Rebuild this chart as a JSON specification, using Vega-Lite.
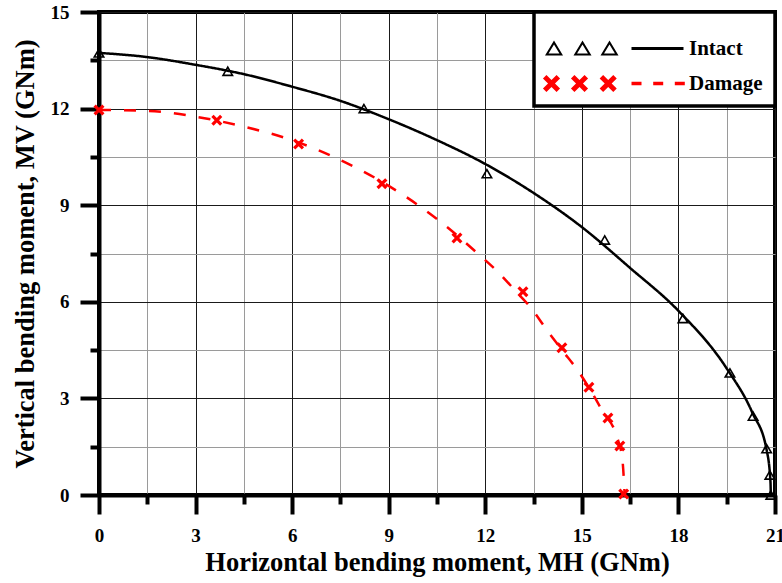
{
  "$schema": "https://vega.github.io/schema/vega-lite/v6.json",
  "width": 676,
  "height": 483,
  "autosize": {"type": "none"},
  "padding": {"left": 99, "top": 12, "right": 7, "bottom": 88},
  "background": "white",
  "config": {
    "view": {"stroke": "black", "strokeWidth": 4},
    "axis": {
      "labelFont": "Liberation Serif", "labelFontSize": 19, "labelFontWeight": "bold", "labelColor": "black",
      "titleFont": "Liberation Serif", "titleFontSize": 26.5, "titleFontWeight": "bold", "titleColor": "black",
      "domainColor": "black", "domainWidth": 4,
      "ticks": true, "tickColor": "#000000", "tickOpacity": 1, "tickWidth": 4, "tickSize": 19,
      "grid": true, "gridWidth": 1,
      "labelFlush": false, "labelOverlap": false
    }
  },
  "datasets": {
    "curves": [
      {"series": "Intact", "mh": 0, "mv": 13.73},
      {"series": "Intact", "mh": 1.5, "mv": 13.6},
      {"series": "Intact", "mh": 3, "mv": 13.36},
      {"series": "Intact", "mh": 4.5, "mv": 13.07},
      {"series": "Intact", "mh": 6, "mv": 12.68},
      {"series": "Intact", "mh": 7.5, "mv": 12.24},
      {"series": "Intact", "mh": 9, "mv": 11.67},
      {"series": "Intact", "mh": 10.5, "mv": 11.02},
      {"series": "Intact", "mh": 12, "mv": 10.28},
      {"series": "Intact", "mh": 13.5, "mv": 9.38},
      {"series": "Intact", "mh": 15, "mv": 8.32},
      {"series": "Intact", "mh": 16.5, "mv": 7.05},
      {"series": "Intact", "mh": 18, "mv": 5.72},
      {"series": "Intact", "mh": 19.5, "mv": 3.93},
      {"series": "Intact", "mh": 20.3, "mv": 2.55},
      {"series": "Intact", "mh": 20.74, "mv": 1.4},
      {"series": "Intact", "mh": 20.86, "mv": 0.4},
      {"series": "Intact", "mh": 20.87, "mv": 0},
      {"series": "Damage", "mh": 0, "mv": 11.96},
      {"series": "Damage", "mh": 1.5, "mv": 11.93},
      {"series": "Damage", "mh": 3, "mv": 11.75},
      {"series": "Damage", "mh": 4.5, "mv": 11.44},
      {"series": "Damage", "mh": 6, "mv": 11.02},
      {"series": "Damage", "mh": 7.5, "mv": 10.4},
      {"series": "Damage", "mh": 9, "mv": 9.6},
      {"series": "Damage", "mh": 10.5, "mv": 8.57},
      {"series": "Damage", "mh": 11.8, "mv": 7.47},
      {"series": "Damage", "mh": 12.4, "mv": 6.92},
      {"series": "Damage", "mh": 12.9, "mv": 6.38},
      {"series": "Damage", "mh": 13.45, "mv": 5.77},
      {"series": "Damage", "mh": 13.95, "mv": 5.07},
      {"series": "Damage", "mh": 14.4, "mv": 4.48},
      {"series": "Damage", "mh": 14.9, "mv": 3.83},
      {"series": "Damage", "mh": 15.3, "mv": 3.2},
      {"series": "Damage", "mh": 15.66, "mv": 2.57},
      {"series": "Damage", "mh": 16.08, "mv": 1.83},
      {"series": "Damage", "mh": 16.26, "mv": 1.09},
      {"series": "Damage", "mh": 16.33, "mv": 0}
    ],
    "points": [
      {"series": "Intact", "mh": 0, "mv": 13.73},
      {"series": "Intact", "mh": 4.0, "mv": 13.16},
      {"series": "Intact", "mh": 8.23, "mv": 12.0},
      {"series": "Intact", "mh": 12.05, "mv": 9.98},
      {"series": "Intact", "mh": 15.71, "mv": 7.92},
      {"series": "Intact", "mh": 18.14, "mv": 5.48},
      {"series": "Intact", "mh": 19.6, "mv": 3.79},
      {"series": "Intact", "mh": 20.32, "mv": 2.45},
      {"series": "Intact", "mh": 20.74, "mv": 1.44},
      {"series": "Intact", "mh": 20.84, "mv": 0.62},
      {"series": "Intact", "mh": 20.87, "mv": 0},
      {"series": "Damage", "mh": 0, "mv": 11.96},
      {"series": "Damage", "mh": 3.66, "mv": 11.64},
      {"series": "Damage", "mh": 6.2, "mv": 10.9},
      {"series": "Damage", "mh": 8.79, "mv": 9.67},
      {"series": "Damage", "mh": 11.12, "mv": 7.98},
      {"series": "Damage", "mh": 13.17, "mv": 6.31},
      {"series": "Damage", "mh": 14.38, "mv": 4.57},
      {"series": "Damage", "mh": 15.22, "mv": 3.35},
      {"series": "Damage", "mh": 15.81, "mv": 2.39},
      {"series": "Damage", "mh": 16.18, "mv": 1.52},
      {"series": "Damage", "mh": 16.3, "mv": 0.03}
    ]
  },
  "encoding": {
    "x": {
      "field": "mh", "type": "quantitative",
      "scale": {"domain": [0, 21], "nice": false},
      "axis": {
        "title": "Horizontal bending moment, MH (GNm)",
        "values": [0, 1.5, 3, 4.5, 6, 7.5, 9, 10.5, 12, 13.5, 15, 16.5, 18, 19.5, 21],
        "labelExpr": "datum.value % 3 === 0 ? datum.label : ''",
        "gridColor": {"condition": {"test": "datum.value % 3 === 0", "value": "#1a1a1a"}, "value": "#9a9a9a"},
        "tickDash": {"condition": {"test": "datum.value % 3 === 0", "value": [30, 1]}, "value": [9, 40]},
        "ticks": true,
        "tickColor": "#000000",
        "tickWidth": 4,
        "tickSize": 19,
        "labelPadding": 12,
        "titlePadding": 4
      }
    },
    "y": {
      "field": "mv", "type": "quantitative",
      "scale": {"domain": [0, 15], "nice": false},
      "axis": {
        "title": "Vertical bending moment, MV (GNm)",
        "values": [0, 1.5, 3, 4.5, 6, 7.5, 9, 10.5, 12, 13.5, 15],
        "labelExpr": "datum.value % 3 === 0 ? datum.label : ''",
        "gridColor": {"condition": {"test": "datum.value % 3 === 0", "value": "#1a1a1a"}, "value": "#9a9a9a"},
        "tickDash": {"condition": {"test": "datum.value % 3 === 0", "value": [30, 1]}, "value": [9, 40]},
        "ticks": true,
        "tickColor": "#000000",
        "tickWidth": 4,
        "tickSize": 19,
        "labelPadding": 11,
        "titlePadding": 11
      }
    }
  },
  "layer": [
    {
      "data": {"name": "curves"},
      "mark": {"type": "line", "strokeWidth": 2.5, "interpolate": "monotone", "clip": false},
      "encoding": {
        "color": {
          "field": "series", "type": "nominal",
          "scale": {"domain": ["Intact", "Damage"], "range": ["#000000", "#ff0000"]},
          "legend": {
            "orient": "top-right", "offset": 0, "padding": 12,
            "strokeColor": "black", "fillColor": "white",
            "title": " ", "titleFontSize": 12, "titlePadding": 2,
            "labelFont": "Liberation Serif", "labelFontSize": 21, "labelFontWeight": "bold", "labelColor": "black",
            "symbolSize": 400, "symbolOffset": -4, "labelOffset": 126, "rowPadding": 13,
            "symbolStrokeWidth": 0,
            "encode": {
              "legend": {"update": {"strokeWidth": {"value": 3.5}}},
              "symbols": {
                "update": {
                  "shape": {"signal": "datum.value === 'Intact' ? 'M0.15,-0.8L1.05,0.7L-0.75,0.7ZM0.15,-0.411L-0.396,0.5L0.696,0.5ZM3,-0.8L3.9,0.7L2.1,0.7ZM3,-0.411L2.454,0.5L3.546,0.5ZM5.7,-0.8L6.6,0.7L4.8,0.7ZM5.7,-0.411L5.154,0.5L6.246,0.5ZM7.9,-0.16L13.1,-0.16L13.1,0.16L7.9,0.16Z' : 'M0.755,-0.507L0.248,0L0.755,0.507L0.407,0.855L-0.1,0.348L-0.607,0.855L-0.955,0.507L-0.448,0L-0.955,-0.507L-0.607,-0.855L-0.1,-0.348L0.407,-0.855ZM3.555,-0.507L3.048,0L3.555,0.507L3.207,0.855L2.7,0.348L2.193,0.855L1.845,0.507L2.352,0L1.845,-0.507L2.193,-0.855L2.7,-0.348L3.207,-0.855ZM6.425,-0.507L5.918,0L6.425,0.507L6.077,0.855L5.57,0.348L5.063,0.855L4.715,0.507L5.222,0L4.715,-0.507L5.063,-0.855L5.57,-0.348L6.077,-0.855ZM7.9,-0.17L8.9,-0.17L8.9,0.17L7.9,0.17ZM10.07,-0.17L11.07,-0.17L11.07,0.17L10.07,0.17ZM12.23,-0.17L13.23,-0.17L13.23,0.17L12.23,0.17Z'"},
                  "fill": {"signal": "datum.value === 'Intact' ? '#000000' : '#ff0000'"},
                  "stroke": {"value": "transparent"},
                  "strokeWidth": {"value": 0},
                  "strokeDash": {"value": [1, 0]},
                  "size": {"value": 400},
                  "opacity": {"value": 1}
                }
              }
            }
          }
        },
        "strokeDash": {
          "field": "series", "type": "nominal",
          "scale": {"domain": ["Intact", "Damage"], "range": [[1, 0], [12, 13]]},
          "legend": null
        }
      }
    },
    {
      "data": {"name": "points"},
      "transform": [{"filter": "datum.series === 'Intact'"}],
      "mark": {"type": "point", "shape": "triangle-up", "filled": false, "stroke": "#000000", "strokeWidth": 1.6, "size": 90, "opacity": 1, "clip": false},
      "encoding": {}
    },
    {
      "data": {"name": "points"},
      "transform": [{"filter": "datum.series === 'Damage'"}],
      "mark": {"type": "point", "shape": "M1,-0.59L0.41,0L1,0.59L0.59,1L0,0.41L-0.59,1L-1,0.59L-0.41,0L-1,-0.59L-0.59,-1L0,-0.41L0.59,-1Z", "filled": true, "fill": "#ff0000", "strokeWidth": 0, "size": 121, "opacity": 1, "clip": false},
      "encoding": {}
    }
  ]
}
